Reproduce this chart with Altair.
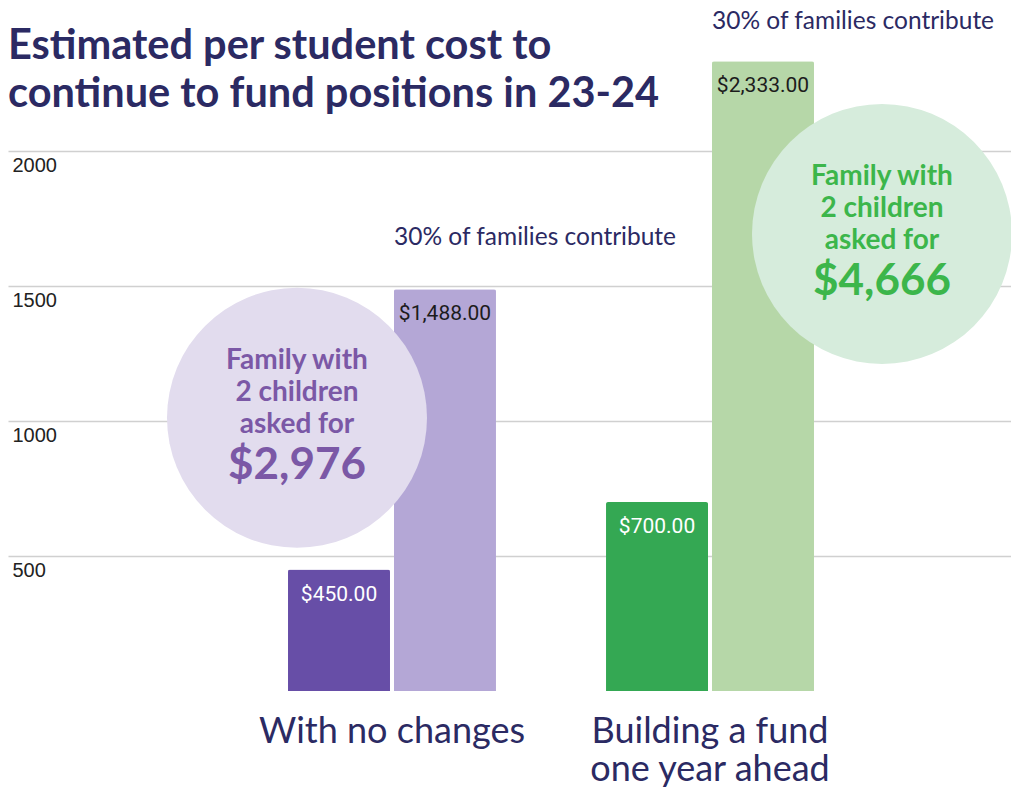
import altair as alt
import pandas as pd

# ---- data ----
categories = ["With no changes", "Building a fund one year ahead"]
series = ["Per student", "30% of families contribute"]
values_no_change = [450, 1488]
values_fund = [700, 2333]
bar_colors = ["#674ea7", "#b4a7d6", "#34a853", "#b6d7a8"]
y_ticks = [500, 1000, 1500, 2000]
contribute_note = "30% of families contribute"
circle_totals = ["$2,976", "$4,666"]
circle_levels = [1012, 1693]
circle_text = "Family with\n2 children\nasked for"
title_lines = ["Estimated per student cost to", "continue to fund positions in 23-24"]

rows = []
for cat, vals in zip(categories, [values_no_change, values_fund]):
    for s, v in zip(series, vals):
        rows.append({"category": cat, "series": s, "value": v, "key": cat + "|" + s})
df = pd.DataFrame(rows)
keys = list(df["key"])

NAVY = "#2b2a63"
W, H = 1003, 683

x_enc = alt.X("category:N", sort=categories,
              scale=alt.Scale(paddingInner=0.346, paddingOuter=0.75, align=0.587),
              axis=alt.Axis(title=None, labelAngle=0, domain=False, ticks=False,
                            labelFont="Lato", labelFontSize=36, labelColor=NAVY,
                            labelPadding=23, labelLimit=500, labelLineHeight=38,
                            labelBaseline="top",
                            labelExpr="datum.value == '" + categories[1] + "' ? ['Building a fund', 'one year ahead'] : datum.label"))
y_scale = alt.Scale(domain=[0, 2530], nice=False, zero=True)
y_enc = alt.Y("value:Q", scale=y_scale,
              axis=alt.Axis(title=None, values=y_ticks, format="d", grid=True, gridColor="#d0d0d0",
                            gridWidth=1.5, domain=False, ticks=False,
                            labelAlign="left", labelBaseline="top", labelPadding=-4,
                            labelOffset=4, labelFont="Liberation Sans", labelFontSize=20,
                            labelColor="#222222"))
xoff = alt.XOffset("series:N", sort=series,
                   scale=alt.Scale(paddingInner=0.0377, paddingOuter=0))

base = alt.Chart(df)

bars = base.mark_bar(cornerRadiusTopLeft=2, cornerRadiusTopRight=2).encode(
    x=x_enc, y=y_enc, xOffset=xoff,
    color=alt.Color("key:N", scale=alt.Scale(domain=keys, range=bar_colors), legend=None),
)

value_labels = base.mark_text(font="Roboto", fontSize=21, baseline="middle", dy=25).encode(
    x=alt.X("category:N", sort=categories), y="value:Q", xOffset=alt.XOffset("series:N", sort=series),
    text=alt.Text("value:Q", format="$,.2f"),
    color=alt.condition(alt.datum.series == series[0], alt.value("white"), alt.value("#1c1c1c")),
)

note_layers = []
for cat, ddy in zip(categories, [-44, -32]):
    note_layers.append(
        base.transform_filter((alt.datum.series == series[1]) & (alt.datum.category == cat)).mark_text(
            font="Lato", fontSize=24.5, align="left", baseline="alphabetic", dx=-51, dy=ddy, color=NAVY
        ).encode(
            x=alt.X("category:N", sort=categories), y="value:Q",
            xOffset=alt.XOffset("series:N", sort=series),
            text=alt.value(contribute_note),
        )
    )

circle_specs = [
    (0, -95, "#e2dcee", "#7b58a6"),
    (1, 172, "#d6ecdc", "#3cb64b"),
]
circle_layers = []
for i, off, fill, tcol in circle_specs:
    cdf = pd.DataFrame({"category": [categories[i]], "value": [circle_levels[i]],
                        "total": [circle_totals[i]]})
    cb = alt.Chart(cdf)
    enc = dict(x=alt.X("category:N", sort=categories), y=alt.Y("value:Q"))
    circle_layers.append(cb.mark_circle(size=67600, color=fill, opacity=1, xOffset=off).encode(**enc))
    circle_layers.append(cb.mark_text(font="Lato", fontWeight="bold", fontSize=28, color=tcol,
                                      lineBreak="\n", lineHeight=32, baseline="middle",
                                      xOffset=off, dy=-57).encode(**enc, text=alt.value(circle_text)))
    circle_layers.append(cb.mark_text(font="Lato", fontWeight="bold", fontSize=44, color=tcol,
                                      baseline="middle", xOffset=off, dy=48).encode(**enc, text="total:N"))

title_layers = []
for line, ypx in zip(title_lines, [51, 99]):
    title_layers.append(
        alt.Chart(pd.DataFrame({"t": [line]})).mark_text(
            font="Lato", fontWeight="bold", fontSize=41.5, color=NAVY,
            align="left", baseline="alphabetic").encode(
            x=alt.value(0), y=alt.value(ypx), text="t:N")
    )

chart = alt.layer(bars, *circle_layers, value_labels, *note_layers, *title_layers).properties(
    width=W, height=H,
    autosize=alt.AutoSizeParams(type="none"),
    padding={"left": 0, "right": 0, "top": 0, "bottom": 96},
).configure_view(stroke=None)

chart.save("out.html", embed_options={"renderer": "svg", "actions": False})
